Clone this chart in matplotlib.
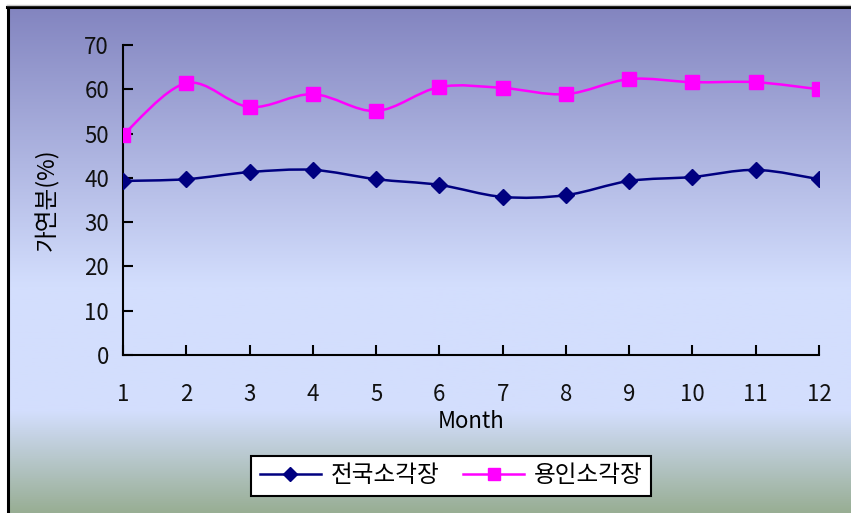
import numpy as np
import matplotlib.pyplot as plt
from matplotlib.path import Path
from matplotlib.patches import PathPatch
from matplotlib.lines import Line2D
from matplotlib.colors import LinearSegmentedColormap

plt.rcParams['font.family'] = ['Noto Sans CJK KR', 'DejaVu Sans']

# monthly values (%)
months = np.arange(1, 13)
national = [39.3, 39.7, 41.3, 41.8, 39.7, 38.4, 35.7, 36.1, 39.3, 40.2, 41.8, 39.7]
yongin = [49.7, 61.4, 56.0, 58.9, 55.1, 60.5, 60.3, 58.9, 62.3, 61.6, 61.6, 60.0]
names = ['전국소각장', '용인소각장']
colors = ['#000080', '#FF00FF']
markers = ['D', 's']
msizes = [8, 10]


def smooth_path(x, y):
    # Bezier segments through every point (Excel-style smoothed line)
    x = np.asarray(x, float)
    y = np.asarray(y, float)
    n = len(x)
    verts = [(x[0], y[0])]
    codes = [Path.MOVETO]
    for i in range(n - 1):
        i0 = max(i - 1, 0)
        i3 = min(i + 2, n - 1)
        c1 = (x[i] + (x[i + 1] - x[i0]) / 6, y[i] + (y[i + 1] - y[i0]) / 6)
        c2 = (x[i + 1] - (x[i3] - x[i]) / 6, y[i + 1] - (y[i3] - y[i]) / 6)
        verts += [c1, c2, (x[i + 1], y[i + 1])]
        codes += [Path.CURVE4] * 3
    return Path(verts, codes)


fig = plt.figure(figsize=(8.51, 5.13), dpi=100)

# gradient background with a black frame on the left and top
bg = fig.add_axes([9 / 851, 0, 1 - 9 / 851, 1 - 8 / 513], zorder=-10)
cmap = LinearSegmentedColormap.from_list('bg', [
    (0.0, '#8385C0'), (0.55, '#D3DEFD'), (0.80, '#D3DEFD'), (1.0, '#98AE94')])
bg.imshow(np.linspace(0, 1, 256).reshape(-1, 1), aspect='auto', cmap=cmap,
          extent=[0, 1, 0, 1])
bg.axis('off')
fig.add_artist(Line2D([8 / 851, 8 / 851], [0, 1 - 6 / 513], color='black',
                      lw=2.2, transform=fig.transFigure))
fig.add_artist(Line2D([7 / 851, 1], [1 - 7 / 513, 1 - 7 / 513], color='black',
                      lw=2.2, transform=fig.transFigure))
fig.add_artist(Line2D([7 / 851, 1], [1 - 4.5 / 513, 1 - 4.5 / 513], color='#C8C8C8',
                      lw=1, transform=fig.transFigure))

ax = fig.add_axes([123 / 851, 1 - 355 / 513, (819 - 123) / 851, (355 - 45) / 513])
ax.set_facecolor('none')

handles = []
for vals, name, c, m, ms in zip([national, yongin], names, colors, markers, msizes):
    ax.add_patch(PathPatch(smooth_path(months, vals), facecolor='none',
                           edgecolor=c, lw=1.8, zorder=2))
    ax.plot(months, vals, linestyle='none', marker=m, markersize=ms,
            color=c, zorder=3)
    handles.append(Line2D([], [], color=c, lw=1.8, marker=m, markersize=ms * 0.85,
                          label=name))

ax.set_xlim(1, 12)
ax.set_ylim(0, 70)
ax.set_xticks(months)
ax.set_yticks(range(0, 71, 10))
ax.spines[['top', 'right']].set_visible(False)
for s in ['left', 'bottom']:
    ax.spines[s].set_linewidth(1.5)
ax.tick_params(direction='in', length=7, width=1.5, labelsize=16,
               labelcolor='#111111')
ax.tick_params(axis='x', pad=20)
ax.tick_params(axis='y', pad=10)
ax.set_xlabel('Month', fontsize=16, labelpad=3)
ax.set_ylabel('가연분(%)', fontsize=17, labelpad=18)

leg = fig.legend(handles=handles, loc='center', bbox_to_anchor=(451 / 851, 1 - 476 / 513),
                 ncol=2, fontsize=17, frameon=True, fancybox=False,
                 edgecolor='black', framealpha=1, handlelength=2.6,
                 columnspacing=1.0, handletextpad=0.4, borderpad=0.35)
leg.get_frame().set_linewidth(1.5)

plt.savefig('out.png', dpi=100)
